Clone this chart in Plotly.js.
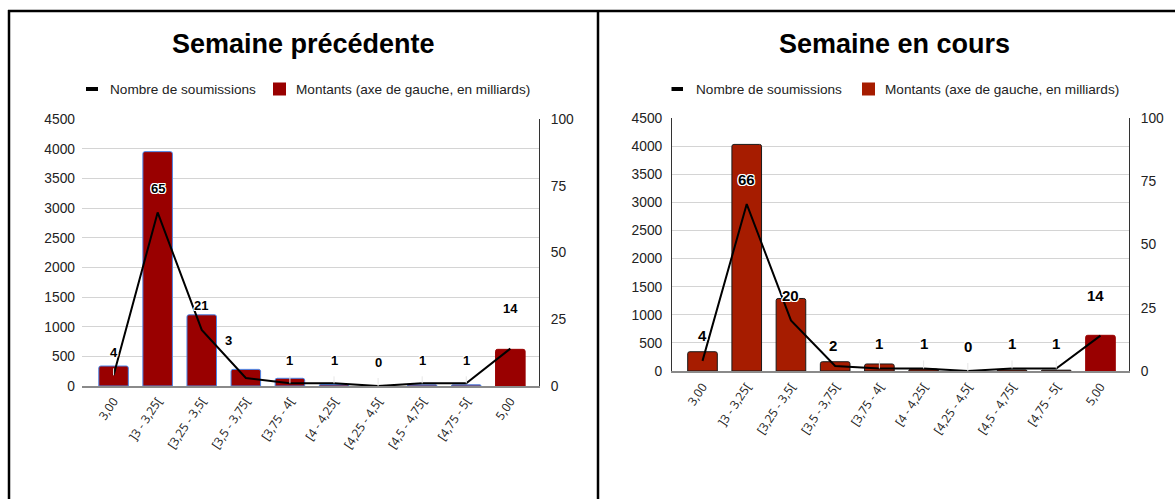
<!DOCTYPE html>
<html>
<head>
<meta charset="utf-8">
<script src="https://cdn.plot.ly/plotly-3.0.1.min.js"></script>
<style>
html,body{margin:0;padding:0;background:#fff;}
#chart{width:1175px;height:499px;}
</style>
</head>
<body>
<div id="chart"></div>
<script>
// ---- data ----
const categories = ['3,00', ']3 - 3,25[', '[3,25 - 3,5[', '[3,5 - 3,75[', '[3,75 - 4[', '[4 - 4,25[', '[4,25 - 4,5[', '[4,5 - 4,75[', '[4,75 - 5[', '5,00'];
const prevAmounts = [337, 3950, 1200, 280, 130, 25, 0, 20, 20, 618];
const prevCounts = [4, 65, 21, 3, 1, 1, 0, 1, 1, 14];
const currAmounts = [343, 4030, 1290, 165, 125, 35, 0, 20, 15, 635];
const currCounts = [4, 66, 20, 2, 1, 1, 0, 1, 1, 14];
const titles = ['Semaine précédente', 'Semaine en cours'];
const legendNames = ['Nombre de soumissions', 'Montants (axe de gauche, en milliards)'];

// ---- styling helpers ----
const W = 1175, H = 499;
const px = x => x / W;
const py = y => 1 - y / H;

// label offsets (pixels: [dx, dy above point, stem shown])
const prevLabelShift = [[0,23,1],[0,24,0],[-1,24,0],[-17,37,0],[0,23,1],[0,23,1],[0,24,1],[0,23,1],[0,23,1],[0,40,0]];
const currLabelShift = [[0,25,0],[0,25,0],[0,25,0],[-2,20,0],[0,25,1],[0,25,1],[0,25,1],[0,25,1],[0,25,1],[-5,40,0]];

const prevFill = categories.map((c,i) => '#990000');
const prevOutline = categories.map((c,i) => i === categories.length-1 ? '#990000' : '#4a86e8');
const currFill = categories.map((c,i) => i === categories.length-1 ? '#990000' : '#a61c00');
const currOutline = categories.map((c,i) => i === categories.length-1 ? '#990000' : '#1a1a1a');

const data = [
  {type:'bar', x:categories, y:prevAmounts, xaxis:'x', yaxis:'y', name:legendNames[1], showlegend:false,
   marker:{color:prevFill, line:{color:prevOutline, width:1}, cornerradius:2}, hoverinfo:'skip'},
  {type:'scatter', mode:'lines', x:categories, y:prevCounts, xaxis:'x', yaxis:'y2', name:legendNames[0], showlegend:false,
   line:{color:'#000', width:2}, hoverinfo:'skip', cliponaxis:false},
  {type:'bar', x:categories, y:currAmounts, xaxis:'x2', yaxis:'y3', name:legendNames[1], showlegend:false,
   marker:{color:currFill, line:{color:currOutline, width:1}, cornerradius:2}, hoverinfo:'skip'},
  {type:'scatter', mode:'lines', x:categories, y:currCounts, xaxis:'x2', yaxis:'y4', name:legendNames[0], showlegend:false,
   line:{color:'#000', width:2}, hoverinfo:'skip', cliponaxis:false}
];

const tickFont = {family:'Liberation Sans, Arial, sans-serif', size:13.8, color:'#222'};
const xTickFont = {family:'Open Sans, sans-serif', size:12, color:'#222'};
const legendFont = {family:'Liberation Sans, Arial, sans-serif', size:13.6, color:'#222'};
const titleFont = {family:'Liberation Sans, Arial, sans-serif', size:27, color:'#000', weight:700};
const halo = '1px 1px 0 #fff, -1px -1px 0 #fff, 1px -1px 0 #fff, -1px 1px 0 #fff, 0 1px 0 #fff, 0 -1px 0 #fff, 1px 0 0 #fff, -1px 0 0 #fff';

function labelAnns(counts, shifts, xref, yref, size) {
  return counts.map((v,i) => ({
    x: categories[i], y: v, xref: xref, yref: yref,
    text: String(v), showarrow: true, arrowhead: 0, arrowwidth: 1,
    arrowcolor: shifts[i][2] ? '#e6e6e6' : 'rgba(0,0,0,0)',
    ax: shifts[i][0], ay: -shifts[i][1], standoff: 0, startstandoff: 7,
    font: {family:'Liberation Sans, Arial, sans-serif', size:size, color:'#000', weight:700, shadow:halo}
  }));
}

const annotations = [
  {text:titles[0], xref:'paper', yref:'paper', x:px(303), y:py(44), xanchor:'center', yanchor:'middle', showarrow:false, font:titleFont},
  {text:titles[1], xref:'paper', yref:'paper', x:px(894), y:py(44), xanchor:'center', yanchor:'middle', showarrow:false, font:titleFont},
  {text:legendNames[0], xref:'paper', yref:'paper', x:px(108), y:py(89), xanchor:'left', yanchor:'middle', showarrow:false, font:legendFont},
  {text:legendNames[1], xref:'paper', yref:'paper', x:px(294), y:py(89), xanchor:'left', yanchor:'middle', showarrow:false, font:legendFont},
  {text:legendNames[0], xref:'paper', yref:'paper', x:px(694), y:py(89), xanchor:'left', yanchor:'middle', showarrow:false, font:legendFont},
  {text:legendNames[1], xref:'paper', yref:'paper', x:px(883), y:py(89), xanchor:'left', yanchor:'middle', showarrow:false, font:legendFont},
  ...labelAnns(prevCounts, prevLabelShift, 'x', 'y2', 13),
  ...labelAnns(currCounts, currLabelShift, 'x2', 'y4', 15)
];

const shapes = [
  // panel frame
  {type:'line', xref:'paper', yref:'paper', x0:px(9), x1:px(9), y0:py(10), y1:-0.05, line:{color:'#000', width:2.5}},
  {type:'line', xref:'paper', yref:'paper', x0:px(8), x1:1.05, y0:py(11), y1:py(11), line:{color:'#000', width:2.5}},
  {type:'line', xref:'paper', yref:'paper', x0:px(598), x1:px(598), y0:py(10), y1:-0.05, line:{color:'#000', width:2.5}},
  // legend symbols
  {type:'line', xref:'paper', yref:'paper', x0:px(86), x1:px(98), y0:py(89), y1:py(89), line:{color:'#000', width:4}},
  {type:'rect', xref:'paper', yref:'paper', x0:px(273), x1:px(286), y0:py(95.5), y1:py(82.5), fillcolor:'#990000', line:{width:0}},
  {type:'line', xref:'paper', yref:'paper', x0:px(671.5), x1:px(683), y0:py(89), y1:py(89), line:{color:'#000', width:4}},
  {type:'rect', xref:'paper', yref:'paper', x0:px(862), x1:px(875), y0:py(95.5), y1:py(82.5), fillcolor:'#a61c00', line:{width:0}}
];

const layout = {
  width: W, height: H,
  margin: {l:0, r:0, t:0, b:0},
  paper_bgcolor: '#fff', plot_bgcolor: 'rgba(0,0,0,0)',
  showlegend: false,
  bargap: 0.33,
  xaxis: {domain:[px(82), px(539)], anchor:'y', type:'category', range:[-0.716, 9.65],
          showgrid:false, showline:true, linecolor:'#8a8a8a', linewidth:1.5, ticks:'',
          tickangle:-56, tickfont:xTickFont, ticklabelstandoff:2, fixedrange:true},
  yaxis: {domain:[py(386), py(119)], anchor:'x', range:[0,4500], dtick:500, tick0:0,
          showgrid:true, gridcolor:'#d4d4d4', gridwidth:1, zeroline:false, showline:false,
          ticks:'', tickfont:tickFont, ticklabelstandoff:6, fixedrange:true},
  yaxis2: {anchor:'x', overlaying:'y', side:'right', range:[0,100], dtick:25, tick0:0,
           showgrid:false, zeroline:false, showline:true, linecolor:'#333', linewidth:1,
           ticks:'', tickfont:tickFont, ticklabelstandoff:8, fixedrange:true},
  xaxis2: {domain:[px(672), px(1129)], anchor:'y3', type:'category', range:[-0.69, 9.645],
           showgrid:false, showline:true, linecolor:'#8a8a8a', linewidth:2, ticks:'',
           tickangle:-56, tickfont:xTickFont, ticklabelstandoff:2, fixedrange:true},
  yaxis3: {domain:[py(371), py(118)], anchor:'x2', range:[0,4500], dtick:500, tick0:0,
           showgrid:true, gridcolor:'#d4d4d4', gridwidth:1, zeroline:false, showline:true, linecolor:'#333', linewidth:1,
           ticks:'', tickfont:tickFont, ticklabelstandoff:6, fixedrange:true},
  yaxis4: {anchor:'x2', overlaying:'y3', side:'right', range:[0,100], dtick:25, tick0:0,
           showgrid:false, zeroline:false, showline:true, linecolor:'#333', linewidth:1,
           ticks:'', tickfont:tickFont, ticklabelstandoff:8, fixedrange:true},
  annotations: annotations,
  shapes: shapes
};

Plotly.newPlot('chart', data, layout, {staticPlot:true, displayModeBar:false});
</script>
</body>
</html>
